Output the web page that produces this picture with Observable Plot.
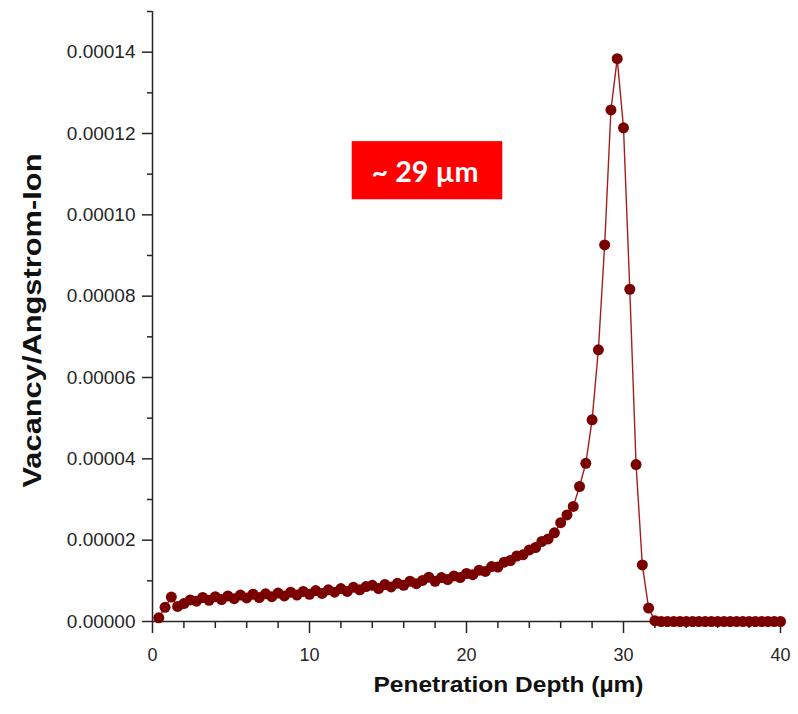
<!DOCTYPE html>
<html>
<head>
<meta charset="utf-8">
<script src="https://cdn.jsdelivr.net/npm/d3@7"></script>
<script src="https://cdn.jsdelivr.net/npm/@observablehq/plot@0.6"></script>
<style>
  html, body { margin: 0; padding: 0; background: #fff; }
</style>
</head>
<body>
<div id="chart"></div>
<script>
// Penetration depth bins (µm)
const depth = [
  0.4, 0.8, 1.2, 1.6, 2.0, 2.4, 2.8, 3.2, 3.6, 4.0,
  4.4, 4.8, 5.2, 5.6, 6.0, 6.4, 6.8, 7.2, 7.6, 8.0,
  8.4, 8.8, 9.2, 9.6, 10.0, 10.4, 10.8, 11.2, 11.6, 12.0,
  12.4, 12.8, 13.2, 13.6, 14.0, 14.4, 14.8, 15.2, 15.6, 16.0,
  16.4, 16.8, 17.2, 17.6, 18.0, 18.4, 18.8, 19.2, 19.6, 20.0,
  20.4, 20.8, 21.2, 21.6, 22.0, 22.4, 22.8, 23.2, 23.6, 24.0,
  24.4, 24.8, 25.2, 25.6, 26.0, 26.4, 26.8, 27.2, 27.6, 28.0,
  28.4, 28.8, 29.2, 29.6, 30.0, 30.4, 30.8, 31.2, 31.6, 32.0,
  32.4, 32.8, 33.2, 33.6, 34.0, 34.4, 34.8, 35.2, 35.6, 36.0,
  36.4, 36.8, 37.2, 37.6, 38.0, 38.4, 38.8, 39.2, 39.6, 40.0
];

// Vacancy / Angstrom-Ion
const vacancies = [
  0.9e-6, 3.5e-6, 6.0e-6, 3.7e-6, 4.4e-6, 5.3e-6, 5.0e-6, 5.9e-6, 5.2e-6, 6.1e-6,
  5.4e-6, 6.3e-6, 5.6e-6, 6.5e-6, 5.8e-6, 6.7e-6, 5.9e-6, 6.8e-6, 6.1e-6, 7.0e-6,
  6.3e-6, 7.2e-6, 6.5e-6, 7.4e-6, 6.7e-6, 7.6e-6, 6.9e-6, 7.8e-6, 7.2e-6, 8.1e-6,
  7.4e-6, 8.4e-6, 7.8e-6, 8.6e-6, 8.9e-6, 8.1e-6, 9.1e-6, 8.5e-6, 9.4e-6, 8.9e-6,
  9.9e-6, 9.3e-6, 10.1e-6, 10.9e-6, 9.9e-6, 10.8e-6, 10.3e-6, 11.2e-6, 10.8e-6, 11.8e-6,
  11.5e-6, 12.6e-6, 12.3e-6, 13.5e-6, 13.4e-6, 14.6e-6, 15.0e-6, 16.1e-6, 16.4e-6, 17.6e-6,
  18.2e-6, 19.7e-6, 20.3e-6, 21.8e-6, 24.3e-6, 26.2e-6, 28.3e-6, 33.2e-6, 38.9e-6, 49.6e-6,
  66.8e-6, 92.6e-6, 125.8e-6, 138.4e-6, 121.4e-6, 81.7e-6, 38.6e-6, 13.9e-6, 3.3e-6, 0.2e-6,
  0, 0, 0, 0, 0, 0, 0, 0, 0, 0,
  0, 0, 0, 0, 0, 0, 0, 0, 0, 0
];

// Tick values
const xMajorTicks = [0, 10, 20, 30, 40];
const xMinorTicks = [2, 4, 6, 8, 12, 14, 16, 18, 22, 24, 26, 28, 32, 34, 36, 38];
const yMajorTicks = [0, 0.00002, 0.00004, 0.00006, 0.00008, 0.00010, 0.00012, 0.00014];
const yMinorTicks = [0.00001, 0.00003, 0.00005, 0.00007, 0.00009, 0.00011, 0.00013, 0.00015];

// Titles
const xTitle = "Penetration Depth (\u00b5m)";
const yTitle = "Vacancy/Angstrom-Ion";

// Annotation box (data units) and label
const annotationLabel = ["~ 29 \u00b5m"];
const annotationX1 = [12.72];
const annotationX2 = [22.31];
const annotationY1 = [0.0001037];
const annotationY2 = [0.0001180];
const annotationTX = [17.36];
const annotationTY = [0.0001104];

const data = depth.map((x, i) => ({ x, y: vacancies[i] }));
const annotation = annotationLabel.map((label, i) => ({
  label,
  x1: annotationX1[i], x2: annotationX2[i],
  y1: annotationY1[i], y2: annotationY2[i],
  tx: annotationTX[i], ty: annotationTY[i]
}));

const axisColor = "#262626";
const markerColor = "#7a0000";

const chart = Plot.plot({
  width: 798,
  height: 714,
  marginLeft: 152,
  marginRight: 18,
  marginTop: 11,
  marginBottom: 93,
  style: {
    fontFamily: "'Liberation Sans', Arial, sans-serif",
    background: "#ffffff",
    overflow: "visible"
  },
  x: { domain: [0, 40] },
  y: { domain: [0, 0.00015] },
  marks: [
    Plot.axisY(yMajorTicks, {
      tickSize: 10, tickPadding: 7,
      tickFormat: d3.format(".5f"),
      fontSize: 19, color: axisColor, strokeWidth: 1.5, label: null
    }),
    Plot.axisY(yMinorTicks, {
      tickSize: 5, tickFormat: () => "",
      color: axisColor, strokeWidth: 1.5, label: null
    }),
    Plot.axisX(xMajorTicks, {
      tickSize: 12, tickPadding: 15,
      tickFormat: d3.format("d"),
      fontSize: 18, color: axisColor, strokeWidth: 1.5, label: null
    }),
    Plot.axisX(xMinorTicks, {
      tickSize: 7, tickFormat: () => "",
      color: axisColor, strokeWidth: 1.5, label: null
    }),
    Plot.ruleX([0], { stroke: axisColor, strokeWidth: 1.5 }),
    Plot.ruleY([0], { stroke: axisColor, strokeWidth: 1.5 }),
    Plot.rect(annotation, { x1: "x1", x2: "x2", y1: "y1", y2: "y2", fill: "#ff0000" }),
    Plot.text(annotation, {
      x: "tx", y: "ty", text: "label", fill: "#ffffff",
      fontSize: 28, fontWeight: "bold", fontFamily: "Lato, 'Open Sans', sans-serif"
    }),
    Plot.line(data, { x: "x", y: "y", stroke: "#a02020", strokeWidth: 1.4 }),
    Plot.dot(data, { x: "x", y: "y", r: 5.5, fill: markerColor }),
    Plot.text([xTitle], {
      frameAnchor: "bottom", dx: 42, dy: 70,
      fontSize: 22.5, fontWeight: "bold", fill: "#111111"
    }),
    Plot.text([yTitle], {
      frameAnchor: "left", rotate: -90, textAnchor: "start", dx: -120, dy: 171,
      fontSize: 25, fontWeight: "bold", fill: "#111111"
    })
  ]
});

// Stretch the titles to the reference's measured extents
d3.select(chart).selectAll("text").each(function () {
  const t = this.textContent;
  if (t === xTitle) d3.select(this).attr("textLength", 270).attr("lengthAdjust", "spacingAndGlyphs");
  if (t === yTitle) d3.select(this).attr("textLength", 334).attr("lengthAdjust", "spacingAndGlyphs");
  if (t === annotationLabel[0]) d3.select(this).attr("textLength", 107).attr("lengthAdjust", "spacingAndGlyphs");
});

document.getElementById("chart").appendChild(chart);
</script>
</body>
</html>
